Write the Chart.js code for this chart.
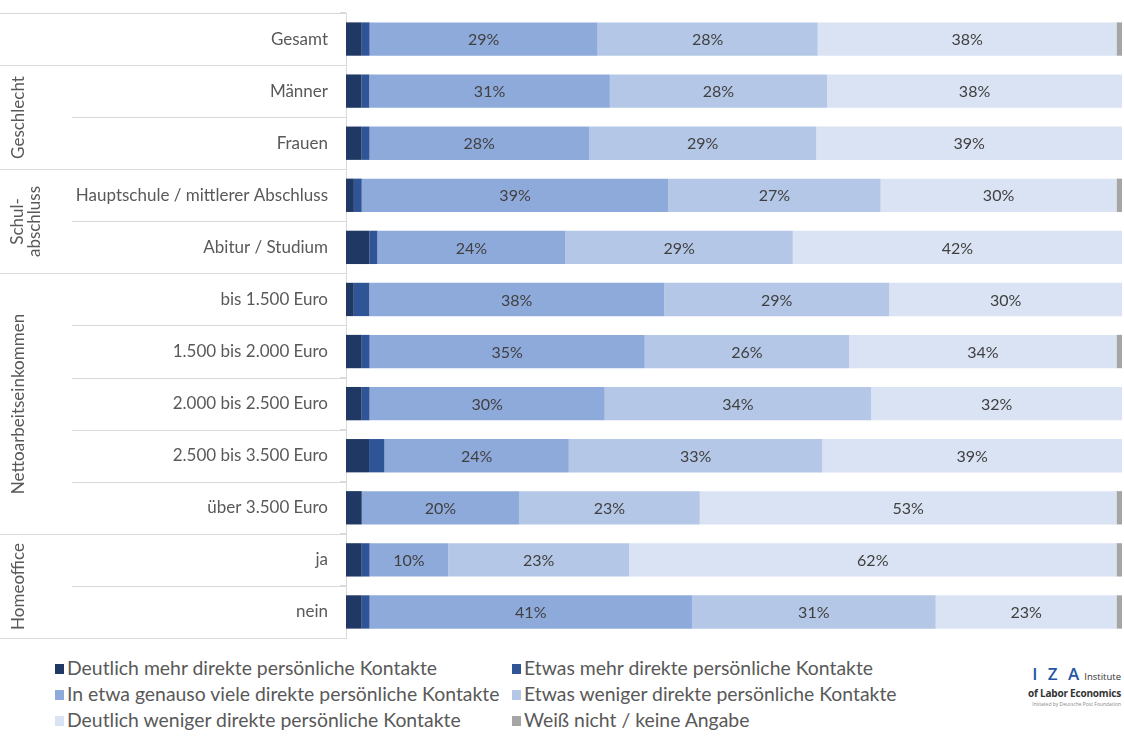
<!DOCTYPE html>
<html>
<head>
<meta charset="utf-8">
<script src="https://cdn.jsdelivr.net/npm/chart.js@4.4.1/dist/chart.umd.min.js"></script>
<style>
  body { margin: 0; background: #fff; font-family: Lato, sans-serif; }
  #wrap { position: absolute; left: 0; top: 0; width: 1124px; height: 645px; }
  .leg { position: absolute; font-size: 19.4px; color: #595959; white-space: nowrap; line-height: 22px; }
  .leg span.sq { display: inline-block; width: 9px; height: 10px; margin-right: 3px; vertical-align: 1px; }
  #iza { position: absolute; left: 1000px; top: 664px; width: 121px; text-align: right; color: #333; white-space: nowrap; font-family: 'Open Sans'; }
</style>
</head>
<body>
<div id="wrap"><canvas id="chart"></canvas></div>
<div id="legend"></div>
<div id="iza">
  <div style="line-height:20px"><span style="color:#1f56a3;font-size:17px;font-weight:600;letter-spacing:3px">I Z A</span><span style="font-size:9.5px;margin-left:2px">Institute</span></div>
  <div style="font-size:10px;font-weight:bold;line-height:12px;letter-spacing:-0.2px">of Labor Economics</div>
  <div style="font-size:5px;color:#888;line-height:10px">Initiated by Deutsche Post Foundation</div>
</div>
<script>
const categories = ['Gesamt', 'Männer', 'Frauen', 'Hauptschule / mittlerer Abschluss', 'Abitur / Studium',
  'bis 1.500 Euro', '1.500 bis 2.000 Euro', '2.000 bis 2.500 Euro', '2.500 bis 3.500 Euro', 'über 3.500 Euro',
  'ja', 'nein'];
const seriesNames = ['Deutlich mehr direkte persönliche Kontakte', 'Etwas mehr direkte persönliche Kontakte',
  'In etwa genauso viele direkte persönliche Kontakte', 'Etwas weniger direkte persönliche Kontakte',
  'Deutlich weniger direkte persönliche Kontakte', 'Weiß nicht / keine Angabe'];
const deutlichMehr    = [2, 2, 2, 1, 3, 1, 2, 2, 3, 2, 2, 2];
const etwasMehr       = [1, 1, 1, 1, 1, 2, 1, 1, 2, 0, 1, 1];
const gleichViele     = [29, 31, 28, 39, 24, 38, 35, 30, 24, 20, 10, 41];
const etwasWeniger    = [28, 28, 29, 27, 29, 29, 26, 34, 33, 23, 23, 31];
const deutlichWeniger = [38, 38, 39, 30, 42, 30, 34, 32, 39, 53, 62, 23];
const weissNicht      = [0.7, 0, 0, 0.7, 0, 0, 0.7, 0, 0, 0.7, 0.7, 0.7];

const groups = [
  { label: ['Geschlecht'], from: 1, to: 2 },
  { label: ['Schul-', 'abschluss'], from: 3, to: 4 },
  { label: ['Nettoarbeitseinkommen'], from: 5, to: 9 },
  { label: ['Homeoffice'], from: 10, to: 11 }
];
const fullLines = [0, 1, 3, 5, 10, 12];
const innerLines = [2, 4, 6, 7, 8, 9, 11];

const colors = ['#203864', '#2f5597', '#8eaadb', '#b4c7e7', '#dae3f3', '#a5a5a5'];
const raw = [deutlichMehr, etwasMehr, gleichViele, etwasWeniger, deutlichWeniger, weissNicht];

// 100% stacked, like Excel: every row is scaled to its own total
const totals = categories.map((c, i) => raw.reduce((s, arr) => s + arr[i], 0));
const datasets = raw.map((arr, k) => ({
  label: seriesNames[k],
  data: arr.map((v, i) => v / totals[i] * 100),
  backgroundColor: colors[k],
  borderWidth: 0,
  barPercentage: 0.64,
  categoryPercentage: 1
}));

const labelPlugin = {
  id: 'segLabels',
  afterDatasetsDraw(chart) {
    const ctx = chart.ctx;
    ctx.save();
    ctx.font = '16px Lato';
    ctx.fillStyle = '#404040';
    ctx.textAlign = 'center';
    ctx.textBaseline = 'middle';
    [2, 3, 4].forEach(k => {
      chart.getDatasetMeta(k).data.forEach((bar, i) => {
        const p = bar.getProps(['x', 'y', 'base'], true);
        ctx.fillText(raw[k][i] + '%', (p.x + p.base) / 2, p.y + 1);
      });
    });
    ctx.restore();
  },
  afterDraw(chart) {
    const ctx = chart.ctx;
    const y = chart.scales.y;
    const left = chart.chartArea.left;
    const step = y.getPixelForValue(1) - y.getPixelForValue(0);
    const edge = b => Math.round(y.getPixelForValue(b) - step / 2) + 0.5;
    ctx.save();
    ctx.strokeStyle = '#d9d9d9';
    ctx.lineWidth = 1;
    fullLines.forEach(b => {
      ctx.beginPath(); ctx.moveTo(0, edge(b)); ctx.lineTo(left, edge(b)); ctx.stroke();
    });
    innerLines.forEach(b => {
      ctx.beginPath(); ctx.moveTo(72, edge(b)); ctx.lineTo(left, edge(b)); ctx.stroke();
    });
    ctx.fillStyle = '#595959';
    ctx.font = '17px Lato';
    ctx.textAlign = 'center';
    ctx.textBaseline = 'middle';
    groups.forEach(g => {
      const cy = (edge(g.from) + edge(g.to + 1)) / 2;
      g.label.forEach((t, j) => {
        const cx = (g.label.length > 1 ? 18 : 19) + j * 17;
        ctx.save();
        ctx.translate(cx, cy);
        ctx.rotate(-Math.PI / 2);
        ctx.fillText(t, 0, 0);
        ctx.restore();
      });
    });
    ctx.restore();
  }
};

new Chart(document.getElementById('chart'), {
  type: 'bar',
  data: { labels: categories, datasets: datasets },
  options: {
    indexAxis: 'y',
    responsive: true,
    maintainAspectRatio: false,
    animation: false,
    layout: { padding: { top: 13, bottom: 7, right: 2, left: 0 } },
    scales: {
      x: { stacked: true, min: 0, max: 100, display: false },
      y: {
        stacked: true,
        afterFit(scale) {
          scale.width = 346;
          scale.paddingTop = 0;
          scale.paddingBottom = 0;
        },
        grid: { drawOnChartArea: false, offset: true, tickLength: 6, color: '#d9d9d9' },
        border: { color: '#d9d9d9' },
        ticks: { padding: 12, color: '#595959', font: { family: 'Lato', size: 17 } }
      }
    },
    plugins: {
      legend: { display: false },
      tooltip: { enabled: false }
    }
  },
  plugins: [labelPlugin]
});

// legend in two columns below the chart
const legendPos = [[55, 657], [512, 657], [55, 683], [512, 683], [55, 709], [512, 709]];
const legendBox = document.getElementById('legend');
seriesNames.forEach((name, k) => {
  const d = document.createElement('div');
  d.className = 'leg';
  d.style.left = legendPos[k][0] + 'px';
  d.style.top = legendPos[k][1] + 'px';
  d.innerHTML = '<span class="sq" style="background:' + colors[k] + '"></span>' + name;
  legendBox.appendChild(d);
});
</script>
</body>
</html>
